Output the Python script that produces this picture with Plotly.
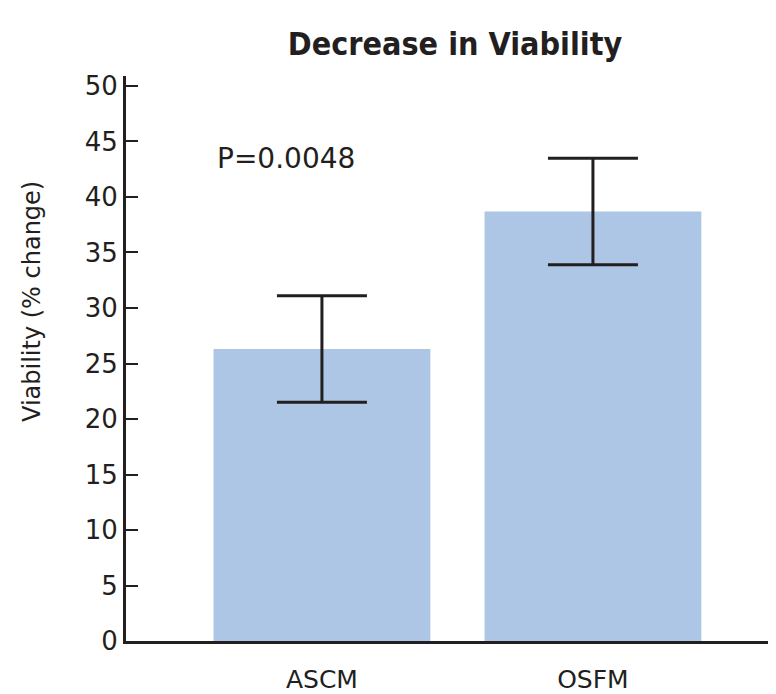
import plotly.graph_objects as go

categories = ["ASCM", "OSFM"]
viability = [26.3, 38.7]
error = [4.8, 4.8]
y_ticks = [0, 5, 10, 15, 20, 25, 30, 35, 40, 45, 50]
p_label = "P=0.0048"

dark = "#231f20"
body = "DejaVu Sans, sans-serif"
fig = go.Figure()
fig.add_trace(go.Bar(
    x=categories, y=viability,
    marker=dict(color="#adc6e5", line=dict(width=0)),
    error_y=dict(type="data", array=error, visible=True, color=dark, thickness=3, width=45),
))
# page body adds an 8px offset; margins compensate for it
fig.update_layout(
    width=776, height=694,
    margin=dict(l=118, r=0, t=68, b=61),
    paper_bgcolor="white", plot_bgcolor="white",
    bargap=0.2,
    showlegend=False,
    font=dict(family=body, color=dark),
    title=dict(text="<b>Decrease in Viability</b>", x=(455-8)/776, xanchor="center",
               xref="container", y=1-(44-8)/694, yanchor="middle", yref="container",
               font=dict(family="DejaVu Sans Condensed, sans-serif", size=32, color=dark)),
    xaxis=dict(range=[-0.723, 1.705], showline=True, linecolor=dark, linewidth=3,
               ticks="outside", ticklen=14, tickcolor="rgba(0,0,0,0)", showgrid=False, zeroline=False,
               tickfont=dict(size=25, color=dark)),
    yaxis=dict(range=[0, 50.9], tickvals=y_ticks, showline=True, linecolor=dark, linewidth=3,
               ticks="inside", ticklen=12, tickwidth=2, tickcolor=dark,
               showgrid=False, zeroline=False, tickfont=dict(size=26, color=dark)),
    annotations=[
        dict(text=p_label, x=-0.395, y=43.5, xref="x", yref="y", xanchor="left", yanchor="middle",
             showarrow=False, font=dict(size=28, color=dark)),
        dict(text="Viability (% change)", x=(32-126)/658, y=0.6, xref="paper", yref="paper",
             textangle=-90, showarrow=False, xanchor="center", yanchor="middle",
             font=dict(size=24, color=dark)),
    ],
)
fig.write_html("out.html")
